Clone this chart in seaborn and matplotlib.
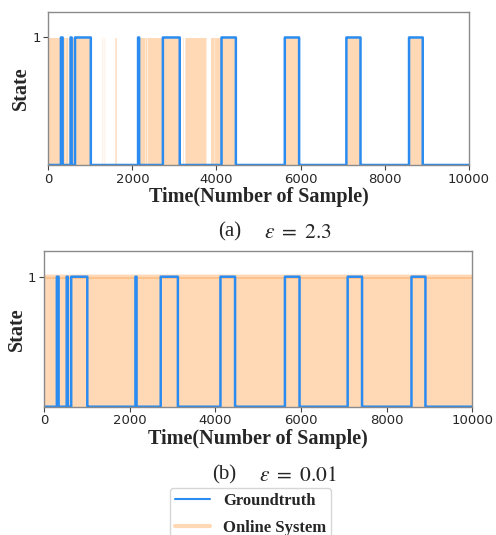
import numpy as np
import pandas as pd
import matplotlib
matplotlib.use("Agg")
import matplotlib.pyplot as plt
import seaborn as sns

sns.set_style("ticks")
plt.rcParams["font.family"] = ["DejaVu Sans"]
plt.rcParams["mathtext.fontset"] = "stix"

# Sample axis
n_samples = 10000

# Ground-truth "on" intervals (sample index start, end)
groundtruth_on = [(300, 340), (530, 555), (635, 1010), (2135, 2160),
                  (2725, 3125), (4120, 4460), (5625, 5965), (7090, 7425),
                  (8580, 8905)]

# Online system "on" intervals for each threshold
online_on_a = [(0, 395), (405, 455), (470, 1010), (1280, 1290), (1330, 1338),
               (1585, 1615), (2170, 2295), (2305, 2335), (2350, 3130),
               (3200, 3212), (3250, 3750), (3860, 3945), (3955, 4460),
               (5630, 5965), (7095, 7425), (8580, 8905)]
online_on_b = [(0, 10000)]

captions = [("(a)", r"$\varepsilon\ =\ 2.3$"), ("(b)", r"$\varepsilon\ =\ 0.01$")]
xticks = [0, 2000, 4000, 6000, 8000, 10000]

blue = "#2a8cf0"
orange = "tab:orange"
serif = ["Liberation Serif", "DejaVu Serif"]


def state_series(intervals):
    s = np.zeros(n_samples + 1)
    for a, b in intervals:
        s[a:b + 1] = 1
    return s


t = np.arange(n_samples + 1)
gt = state_series(groundtruth_on)

fig = plt.figure(figsize=(4.96, 5.35), dpi=100)
ax_a = fig.add_axes([0.0974, 0.6916, 0.8476, 0.2860])
ax_b = fig.add_axes([0.0887, 0.2398, 0.8635, 0.2916])

for ax, online, edge in [(ax_a, online_on_a, False), (ax_b, online_on_b, True)]:
    on = state_series(online)
    ax.fill_between(t, 0, on, step="post", color=orange, alpha=0.3, linewidth=0)
    if edge:
        ax.plot(t, on, color=orange, alpha=0.3, lw=3)
    df = pd.DataFrame({"t": t, "state": gt})
    sns.lineplot(data=df, x="t", y="state", ax=ax, color=blue, lw=1.8,
                 drawstyle="steps-post", estimator=None)
    ax.set_xlim(0, 10000)
    ax.set_ylim(0, 1.2)
    ax.set_xticks(xticks)
    ax.set_yticks([1])
    ax.tick_params(labelsize=9.5, length=3.5, width=0.8, color="#444444", pad=2)
    for sp in ax.spines.values():
        sp.set_color("#8a8a8a")
        sp.set_linewidth(1.0)
    ax.set_xlabel("Time(Number of Sample)", family=serif, fontweight="bold",
                  fontsize=14.5, labelpad=1)
    ax.set_ylabel("State", family=serif, fontweight="bold", fontsize=14.5,
                  labelpad=1)

# Sub-figure captions
for (lab, eq), y, xl, xe in [(captions[0], 1 - 232 / 535, 218 / 496, 264 / 496),
                             (captions[1], 1 - 475 / 535, 212 / 496, 259 / 496)]:
    fig.text(xl, y, lab, family=serif, fontsize=15, va="center", ha="left")
    fig.text(xe, y, eq, fontsize=15.5, va="center", ha="left")

handles = [plt.Line2D([], [], color=blue, lw=1.5),
           plt.Line2D([], [], color=orange, alpha=0.3, lw=3)]
fig.legend(handles, ["Groundtruth", "Online System"], loc="upper center",
           bbox_to_anchor=(0.505, 1 - 488 / 535), borderaxespad=0,
           prop={"family": serif, "weight": "bold", "size": 12},
           frameon=True, handlelength=2.1, borderpad=0.3, labelspacing=0.65)

fig.savefig("out.png", dpi=100)
